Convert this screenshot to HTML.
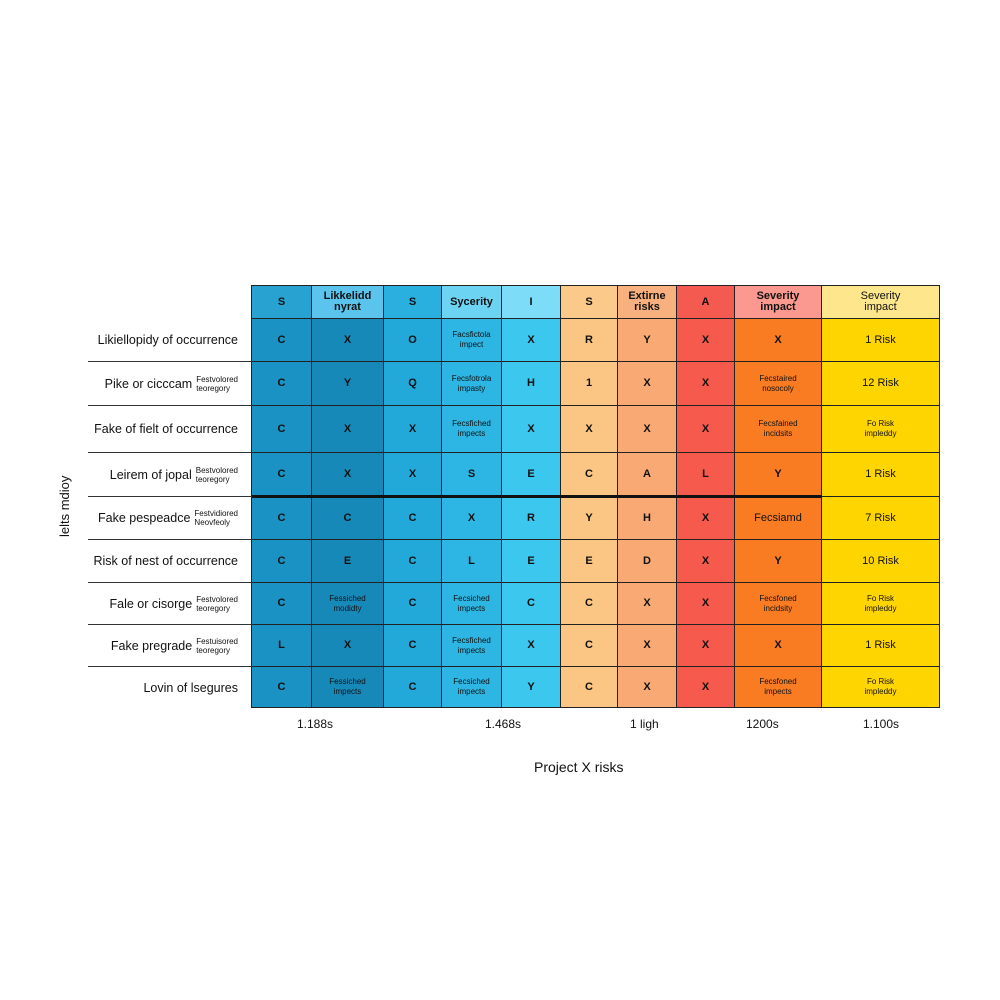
<!DOCTYPE html><html><head><style>
body{margin:0;width:1000px;height:1000px;background:#fff;position:relative;font-family:"Liberation Sans",sans-serif;overflow:hidden}
table{position:absolute;left:251px;top:285px;border-collapse:collapse;table-layout:fixed}
td{border:1.5px solid #222;padding:0;text-align:center;font-size:11px;color:#111;line-height:11px;font-weight:bold}
td.s{font-size:8px;line-height:10px;font-weight:normal}
.h td{font-size:11px}
.c1{background:#1a93c4}.c2{background:#1689b9}.c3{background:#22a8d9}.c4{background:#2db6e3}.c5{background:#3cc7ef}.c6{background:#fbc684}.c7{background:#f9aa74}.c8{background:#f55a4c}.c9{background:#f97c22}.c10{background:#ffd500}
.c10{font-weight:normal}
.h .c1{background:#28a2d0}.h .c2{background:#5ac4ec}.h .c3{background:#2ab0de}.h .c4{background:#6dd3f2}.h .c5{background:#7ddcf7}.h .c6{background:#fbc98a}.h .c7{background:#f8b07e}.h .c8{background:#f45a4f}.h .c9{background:#fb9990}.h .c10{background:#fde68c}
.lab{position:absolute;left:88px;font-size:12.5px;color:#111;border-bottom:1.5px solid #333;display:flex;align-items:center;justify-content:flex-end;padding-right:14px;box-sizing:border-box;width:164px}
.lab small{font-size:8px;line-height:9px;margin-left:4px;display:inline-block;text-align:left}
.t{position:absolute;font-size:12px;color:#111}
</style></head><body>
<table>
<colgroup><col style="width:60px"><col style="width:72px"><col style="width:58px"><col style="width:60px"><col style="width:59px"><col style="width:57px"><col style="width:59px"><col style="width:58px"><col style="width:87px"><col style="width:118px"></colgroup>
<tr class="h" style="height:33px"><td class="c1">S</td><td class="c2">Likkelidd<br>nyrat</td><td class="c3">S</td><td class="c4">Sycerity</td><td class="c5">I</td><td class="c6">S</td><td class="c7">Extirne<br>risks</td><td class="c8">A</td><td class="c9">Severity<br>impact</td><td class="c10">Severity<br>impact</td></tr>
<tr style="height:43px"><td class="c1">C</td><td class="c2">X</td><td class="c3">O</td><td class="c4 s">Facsfictola<br>impect</td><td class="c5">X</td><td class="c6">R</td><td class="c7">Y</td><td class="c8">X</td><td class="c9">X</td><td class="c10">1 Risk</td></tr>
<tr style="height:44px"><td class="c1">C</td><td class="c2">Y</td><td class="c3">Q</td><td class="c4 s">Fecsfotrola<br>impasty</td><td class="c5">H</td><td class="c6">1</td><td class="c7">X</td><td class="c8">X</td><td class="c9 s">Fecstaired<br>nosocoly</td><td class="c10">12 Risk</td></tr>
<tr style="height:47px"><td class="c1">C</td><td class="c2">X</td><td class="c3">X</td><td class="c4 s">Fecsfiched<br>impects</td><td class="c5">X</td><td class="c6">X</td><td class="c7">X</td><td class="c8">X</td><td class="c9 s">Fecsfained<br>incidsits</td><td class="c10 s">Fo Risk<br>impleddy</td></tr>
<tr style="height:44px"><td class="c1">C</td><td class="c2">X</td><td class="c3">X</td><td class="c4">S</td><td class="c5">E</td><td class="c6">C</td><td class="c7">A</td><td class="c8">L</td><td class="c9">Y</td><td class="c10">1 Risk</td></tr>
<tr style="height:43px"><td class="c1">C</td><td class="c2">C</td><td class="c3">C</td><td class="c4">X</td><td class="c5">R</td><td class="c6">Y</td><td class="c7">H</td><td class="c8">X</td><td class="c9" style="font-weight:normal">Fecsiamd</td><td class="c10">7 Risk</td></tr>
<tr style="height:43px"><td class="c1">C</td><td class="c2">E</td><td class="c3">C</td><td class="c4">L</td><td class="c5">E</td><td class="c6">E</td><td class="c7">D</td><td class="c8">X</td><td class="c9">Y</td><td class="c10">10 Risk</td></tr>
<tr style="height:42px"><td class="c1">C</td><td class="c2 s">Fessiched<br>modidty</td><td class="c3">C</td><td class="c4 s">Fecsiched<br>impects</td><td class="c5">C</td><td class="c6">C</td><td class="c7">X</td><td class="c8">X</td><td class="c9 s">Fecsfoned<br>incidsity</td><td class="c10 s">Fo Risk<br>impleddy</td></tr>
<tr style="height:42px"><td class="c1">L</td><td class="c2">X</td><td class="c3">C</td><td class="c4 s">Fecsfiched<br>impects</td><td class="c5">X</td><td class="c6">C</td><td class="c7">X</td><td class="c8">X</td><td class="c9">X</td><td class="c10">1 Risk</td></tr>
<tr style="height:41px"><td class="c1">C</td><td class="c2 s">Fessiched<br>impects</td><td class="c3">C</td><td class="c4 s">Fecsiched<br>impects</td><td class="c5">Y</td><td class="c6">C</td><td class="c7">X</td><td class="c8">X</td><td class="c9 s">Fecsfoned<br>impects</td><td class="c10 s">Fo Risk<br>impleddy</td></tr>
</table>
<div style="position:absolute;left:252px;top:495px;width:570px;height:3px;background:#111"></div>
<div class="lab" style="top:319px;height:43px">Likiellopidy of occurrence</div>
<div class="lab" style="top:362px;height:44px">Pike or cicccam<small>Festvolored<br>teoregory</small></div>
<div class="lab" style="top:406px;height:47px">Fake of fielt of occurrence</div>
<div class="lab" style="top:453px;height:44px">Leirem of jopal<small>Bestvolored<br>teoregory</small></div>
<div class="lab" style="top:497px;height:43px">Fake pespeadce<small>Festvidiored<br>Neovfeoly</small></div>
<div class="lab" style="top:540px;height:43px">Risk of nest of occurrence</div>
<div class="lab" style="top:583px;height:42px">Fale or cisorge<small>Festvolored<br>teoregory</small></div>
<div class="lab" style="top:625px;height:42px">Fake pregrade<small>Festuisored<br>teoregory</small></div>
<div class="lab" style="top:667px;height:41px;border-bottom:none">Lovin of lsegures</div>
<div class="t" style="left:57px;top:537px;transform:rotate(-90deg);transform-origin:left top;font-size:13px">lelts mdioy</div>
<div class="t" style="left:297px;top:717px">1.188s</div>
<div class="t" style="left:485px;top:717px">1.468s</div>
<div class="t" style="left:630px;top:717px">1 ligh</div>
<div class="t" style="left:746px;top:717px">1200s</div>
<div class="t" style="left:863px;top:717px">1.100s</div>
<div class="t" style="left:534px;top:759px;font-size:14px">Project X risks</div>
</body></html>
